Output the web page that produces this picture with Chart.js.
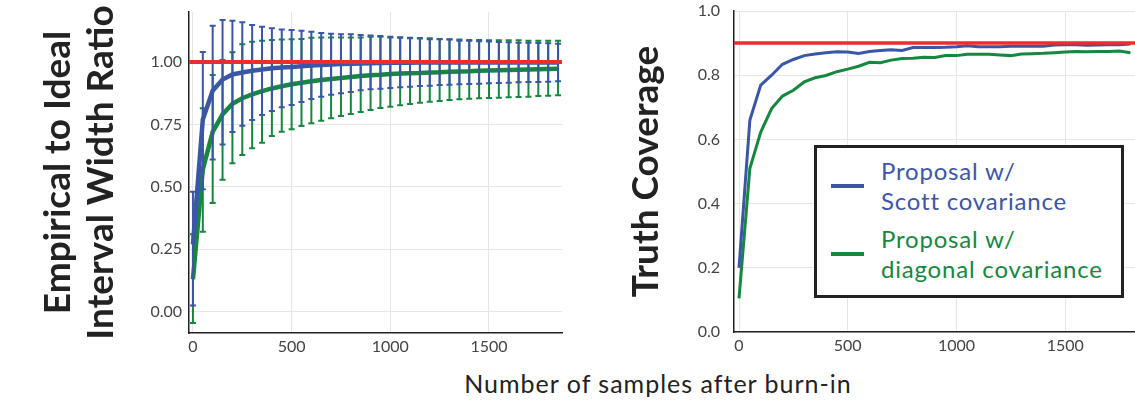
<!DOCTYPE html>
<html>
<head>
<meta charset="utf-8">
<script src="https://cdn.jsdelivr.net/npm/chart.js@4.4.0/dist/chart.umd.min.js"></script>
<style>
    body { margin: 0; background: #fff; width: 1135px; height: 400px; position: relative; overflow: hidden; font-family: Lato, sans-serif; }
    #widthChart { position: absolute; left: 0; top: 0; }
    #coverageChart { position: absolute; left: 600px; top: 0; }
    #xTitle { position: absolute; left: 358px; width: 600px; top: 368px; text-align: center; font-size: 25px; letter-spacing: 1px; color: #222; line-height: 30px; }
    #legend { position: absolute; left: 814px; top: 145px; width: 304px; height: 147px; border: 3px solid #222; background: #fff; }
    .entry { position: absolute; left: 0; }
    .swatch { position: absolute; left: 14px; width: 33px; height: 4px; }
    .label { position: absolute; left: 64px; font-size: 24px; letter-spacing: 0.8px; line-height: 30px; white-space: nowrap; }
</style>
</head>
<body>
<canvas id="widthChart" width="575" height="365"></canvas>
<canvas id="coverageChart" width="535" height="365"></canvas>
<div id="xTitle">Number of samples after burn-in</div>
<div id="legend"></div>
<script>
// samples after burn-in (x positions)
const samples = [0, 50, 100, 150, 200, 250, 300, 350, 400, 450, 500, 550, 600, 650, 700, 750, 800, 850, 900, 950,
    1000, 1050, 1100, 1150, 1200, 1250, 1300, 1350, 1400, 1450, 1500, 1550, 1600, 1650, 1700, 1750, 1800, 1850];

// left panel: empirical / ideal interval width ratio
const scottRatio = [0.27, 0.77, 0.885, 0.93, 0.95, 0.958, 0.965, 0.97, 0.975, 0.978, 0.98, 0.983, 0.986, 0.988, 0.99, 0.992, 0.993, 0.994, 0.995, 0.996,
    0.997, 0.997, 0.997, 0.998, 0.998, 0.998, 0.998, 0.998, 0.998, 0.998, 0.998, 0.998, 0.998, 0.998, 0.998, 0.998, 0.998, 0.998];
const scottRatioLow = [0.025, 0.49, 0.61, 0.67, 0.72, 0.745, 0.768, 0.788, 0.804, 0.819, 0.828, 0.84, 0.852, 0.861, 0.869, 0.875, 0.88, 0.887, 0.891, 0.893,
    0.896, 0.899, 0.901, 0.904, 0.905, 0.908, 0.909, 0.911, 0.912, 0.913, 0.915, 0.916, 0.917, 0.919, 0.92, 0.92, 0.921, 0.923];
const scottRatioHigh = [0.48, 1.04, 1.145, 1.168, 1.165, 1.159, 1.148, 1.141, 1.135, 1.13, 1.128, 1.125, 1.121, 1.116, 1.113, 1.111, 1.111, 1.108, 1.106, 1.104,
    1.101, 1.099, 1.095, 1.094, 1.091, 1.091, 1.09, 1.085, 1.085, 1.083, 1.082, 1.08, 1.079, 1.077, 1.077, 1.076, 1.075, 1.073];

const diagRatio = [0.13, 0.57, 0.72, 0.79, 0.833, 0.855, 0.87, 0.883, 0.894, 0.903, 0.911, 0.917, 0.923, 0.928, 0.932, 0.936, 0.94, 0.944, 0.947, 0.949,
    0.952, 0.954, 0.955, 0.956, 0.958, 0.959, 0.961, 0.962, 0.963, 0.965, 0.966, 0.967, 0.968, 0.969, 0.97, 0.971, 0.972, 0.973];
const diagRatioLow = [-0.045, 0.32, 0.435, 0.528, 0.595, 0.628, 0.655, 0.677, 0.704, 0.721, 0.731, 0.744, 0.755, 0.765, 0.775, 0.784, 0.792, 0.8, 0.808, 0.816,
    0.821, 0.827, 0.832, 0.837, 0.841, 0.844, 0.848, 0.851, 0.853, 0.855, 0.856, 0.857, 0.859, 0.86, 0.861, 0.864, 0.865, 0.867];
const diagRatioHigh = [0.31, 0.815, 0.948, 1.008, 1.039, 1.071, 1.081, 1.085, 1.088, 1.09, 1.091, 1.092, 1.097, 1.098, 1.098, 1.098, 1.098, 1.098, 1.101, 1.101,
    1.098, 1.097, 1.097, 1.096, 1.095, 1.092, 1.091, 1.09, 1.088, 1.088, 1.087, 1.087, 1.087, 1.087, 1.085, 1.085, 1.085, 1.085];

// right panel: truth coverage
const coverageSamples = [0, 50, 100, 150, 200, 250, 300, 350, 400, 450, 500, 550, 600, 650, 700, 750, 800, 850, 900, 950,
    1000, 1050, 1100, 1150, 1200, 1250, 1300, 1350, 1400, 1450, 1500, 1550, 1600, 1650, 1700, 1750, 1800];
const scottCoverage = [0.2, 0.66, 0.769, 0.80, 0.834, 0.849, 0.861, 0.866, 0.87, 0.873, 0.872, 0.868, 0.874, 0.877, 0.879, 0.877, 0.886, 0.886, 0.886, 0.887,
    0.889, 0.892, 0.889, 0.889, 0.889, 0.89, 0.89, 0.89, 0.89, 0.894, 0.895, 0.895, 0.893, 0.894, 0.895, 0.895, 0.897];
const diagCoverage = [0.105, 0.51, 0.623, 0.696, 0.735, 0.753, 0.779, 0.792, 0.799, 0.811, 0.819, 0.828, 0.84, 0.839, 0.847, 0.852, 0.853, 0.856, 0.855, 0.861,
    0.861, 0.865, 0.865, 0.865, 0.863, 0.861, 0.866, 0.867, 0.868, 0.87, 0.872, 0.874, 0.873, 0.874, 0.874, 0.875, 0.87];

const idealRatio = 1.0;
const nominalCoverage = 0.9;

// ticks
const sampleTicks = [0, 500, 1000, 1500];
const sampleTickLabels = ['0', '500', '1000', '1500'];
const ratioTicks = [0, 0.25, 0.5, 0.75, 1.0];
const ratioTickLabels = ['0.00', '0.25', '0.50', '0.75', '1.00'];
const coverageTicks = [0, 0.2, 0.4, 0.6, 0.8, 1.0];
const coverageTickLabels = ['0.0', '0.2', '0.4', '0.6', '0.8', '1.0'];

const seriesNames = [['Proposal w/', 'Scott covariance'], ['Proposal w/', 'diagonal covariance']];
const seriesColors = ['#3c56a6', '#17873f'];
const refColor = '#ee2b2f';

const tickFont = { family: 'Lato', size: 16 };
const titleFont = { family: 'Lato', size: 37, weight: 'bold', lineHeight: 1.16 };

// draws error bars of a dataset right before its line
const errorBars = {
    id: 'errorBars',
    beforeDatasetDraw(chart, args) {
        const ds = chart.data.datasets[args.index];
        if (!ds.errLow) return;
        const xs = chart.scales.x, ys = chart.scales.y, ctx = chart.ctx;
        ctx.save();
        ctx.strokeStyle = ds.borderColor;
        ctx.lineWidth = 2;
        ds.data.forEach((p, i) => {
            const px = xs.getPixelForValue(p.x);
            const top = ys.getPixelForValue(ds.errHigh[i]);
            const bot = ys.getPixelForValue(ds.errLow[i]);
            ctx.beginPath();
            ctx.moveTo(px, top); ctx.lineTo(px, bot);
            ctx.moveTo(px - 3, top); ctx.lineTo(px + 3, top);
            ctx.moveTo(px - 3, bot); ctx.lineTo(px + 3, bot);
            ctx.stroke();
        });
        ctx.restore();
    }
};

// horizontal reference line
const refLine = {
    id: 'refLine',
    afterDatasetsDraw(chart, args, opts) {
        const y = chart.scales.y.getPixelForValue(opts.value);
        const { left, right } = chart.chartArea;
        const ctx = chart.ctx;
        ctx.save();
        ctx.strokeStyle = opts.color;
        ctx.lineWidth = opts.width;
        ctx.beginPath();
        ctx.moveTo(left, y); ctx.lineTo(right, y);
        ctx.stroke();
        ctx.restore();
    }
};

function points(xs, ys) {
    return xs.map((x, i) => ({ x: x, y: ys[i] }));
}

function fixedTicks(values) {
    return scale => { scale.ticks = values.map(v => ({ value: v })); };
}

function axisX(min, max, height) {
    return {
        type: 'linear', min: min, max: max,
        afterBuildTicks: fixedTicks(sampleTicks),
        afterFit: scale => { scale.height = height; scale.paddingLeft = 0; scale.paddingRight = 0; },
        ticks: { font: tickFont, color: '#444', padding: 4, maxRotation: 0,
            callback: v => sampleTickLabels[sampleTicks.indexOf(v)] },
        grid: { color: '#e6e6e6', drawTicks: false },
        border: { color: '#222', width: 1.5 }
    };
}

function axisY(min, max, width, ticks, labels, title, titlePad, pad) {
    return {
        min: min, max: max,
        afterBuildTicks: fixedTicks(ticks),
        afterFit: scale => { scale.width = width; scale.paddingTop = 0; scale.paddingBottom = 0; },
        ticks: { font: tickFont, color: '#444', padding: pad,
            callback: v => labels[ticks.indexOf(v)] },
        grid: { color: '#e6e6e6', drawTicks: false },
        border: { color: '#222', width: 1.5 },
        title: { display: true, text: title, font: titleFont, color: '#222', padding: { top: titlePad, bottom: 0 } }
    };
}

const lineStyle = { pointRadius: 0, tension: 0, fill: false };

new Chart(document.getElementById('widthChart'), {
    type: 'line',
    data: {
        datasets: [
            Object.assign({ data: points(samples, scottRatio), borderColor: seriesColors[0], borderWidth: 4.5,
                errLow: scottRatioLow, errHigh: scottRatioHigh }, lineStyle),
            Object.assign({ data: points(samples, diagRatio), borderColor: seriesColors[1], borderWidth: 4.5,
                errLow: diagRatioLow, errHigh: diagRatioHigh }, lineStyle)
        ]
    },
    options: {
        responsive: false,
        animation: false,
        layout: { padding: { top: 12, right: 13, left: 0, bottom: 0 } },
        scales: {
            x: axisX(-20, 1870, 32),
            y: axisY(-0.085, 1.2, 189, ratioTicks, ratioTickLabels, ['Empirical to Ideal', 'Interval Width Ratio'], 37, 7)
        },
        plugins: {
            legend: { display: false },
            tooltip: { enabled: false },
            refLine: { value: idealRatio, color: refColor, width: 4 }
        }
    },
    plugins: [errorBars, refLine]
});

new Chart(document.getElementById('coverageChart'), {
    type: 'line',
    data: {
        datasets: [
            Object.assign({ data: points(coverageSamples, scottCoverage), borderColor: seriesColors[0], borderWidth: 3 }, lineStyle),
            Object.assign({ data: points(coverageSamples, diagCoverage), borderColor: seriesColors[1], borderWidth: 3 }, lineStyle)
        ]
    },
    options: {
        responsive: false,
        animation: false,
        layout: { padding: { top: 11, right: 0, left: 0, bottom: 0 } },
        scales: {
            x: axisX(-23, 1821, 33),
            y: axisY(0, 1.0, 134, coverageTicks, coverageTickLabels, 'Truth Coverage', 25, 14)
        },
        plugins: {
            legend: { display: false },
            tooltip: { enabled: false },
            refLine: { value: nominalCoverage, color: refColor, width: 3.5 }
        }
    },
    plugins: [refLine]
});

// legend box with two-line labels
const legendEl = document.getElementById('legend');
const entryTops = [8, 76];
seriesNames.forEach((lines, i) => {
    const entry = document.createElement('div');
    entry.className = 'entry';
    entry.style.top = entryTops[i] + 'px';
    const sw = document.createElement('div');
    sw.className = 'swatch';
    sw.style.background = seriesColors[i];
    sw.style.top = '28px';
    const lab = document.createElement('div');
    lab.className = 'label';
    lab.style.color = seriesColors[i];
    lab.innerHTML = lines.join('<br>');
    entry.appendChild(sw);
    entry.appendChild(lab);
    legendEl.appendChild(entry);
});
</script>
</body>
</html>
